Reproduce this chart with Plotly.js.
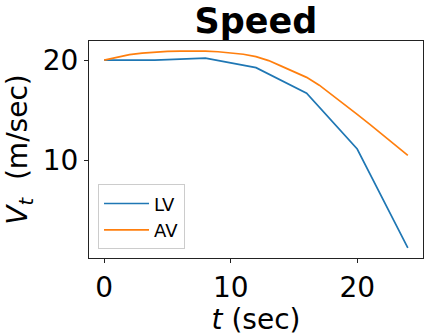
<!DOCTYPE html>
<html>
<head>
<meta charset="utf-8">
<script src="https://cdn.plot.ly/plotly-3.0.1.min.js"></script>
<style>html,body{margin:0;padding:0;background:#fff;}#chart{width:430px;height:336px;}</style>
</head>
<body>
<div id="chart"></div>
<script>
const lvTime = [0, 4, 8, 12, 16, 20, 24];
const lvSpeed = [20.0, 20.0, 20.2, 19.25, 16.7, 11.15, 1.3];
const avTime = [0,1,2,3,4,5,6,7,8,9,10,11,12,13,14,15,16,17,18,19,20,21,22,23,24];
const avSpeed = [20.0,20.3,20.55,20.7,20.8,20.86,20.9,20.92,20.9,20.83,20.73,20.58,20.35,19.95,19.4,18.85,18.28,17.5,16.55,15.6,14.6,13.6,12.55,11.55,10.52];
const xTicks = [0, 10, 20];
const yTicks = [10, 20];

const font = 'DejaVu Sans, sans-serif';
const traces = [
  {x: lvTime, y: lvSpeed, type: 'scatter', mode: 'lines', name: 'LV', line: {color: '#1f77b4', width: 1.7}},
  {x: avTime, y: avSpeed, type: 'scatter', mode: 'lines', name: 'AV', line: {color: '#ff7f0e', width: 1.7}}
];
const axisCommon = {
  showgrid: false, zeroline: false, showline: true, mirror: true,
  linecolor: '#222', linewidth: 1, ticks: 'outside', ticklen: 4, tickwidth: 1,
  tickcolor: '#222', tickfont: {family: font, size: 28, color: '#000'}
};
const layout = {
  width: 430, height: 336,
  margin: {l: 89, r: 7, t: 41, b: 78},
  paper_bgcolor: '#fff', plot_bgcolor: '#fff',
  font: {family: font, color: '#000'},
  title: {text: '<b>Speed</b>', font: {family: font, size: 35, color: '#000'},
          x: 0.5, xref: 'paper', xanchor: 'center', y: 1 - 21/336, yref: 'container', yanchor: 'middle'},
  xaxis: Object.assign({}, axisCommon, {
    range: [-1.2, 25.2], tickmode: 'array', tickvals: xTicks, ticktext: xTicks.map(String),
    title: {text: '<i>t</i> (sec)', font: {family: font, size: 28, color: '#000'}, standoff: 0}
  }),
  yaxis: Object.assign({}, axisCommon, {
    range: [0.3, 21.9], tickmode: 'array', tickvals: yTicks, ticktext: yTicks.map(String),
    title: {text: '<i>V</i><sub><i>t</i></sub>&nbsp; (m/sec)', font: {family: font, size: 28, color: '#000'}, standoff: 6}
  }),
  showlegend: true,
  legend: {x: 0.027, y: 0.04, xanchor: 'left', yanchor: 'bottom',
           bgcolor: 'rgba(255,255,255,0.8)', bordercolor: '#ccc', borderwidth: 1,
           itemwidth: 45,
           font: {family: font, size: 18, color: '#000'}, tracegroupgap: 0}
};
Plotly.newPlot('chart', traces, layout, {displayModeBar: false, staticPlot: true});
</script>
</body>
</html>
